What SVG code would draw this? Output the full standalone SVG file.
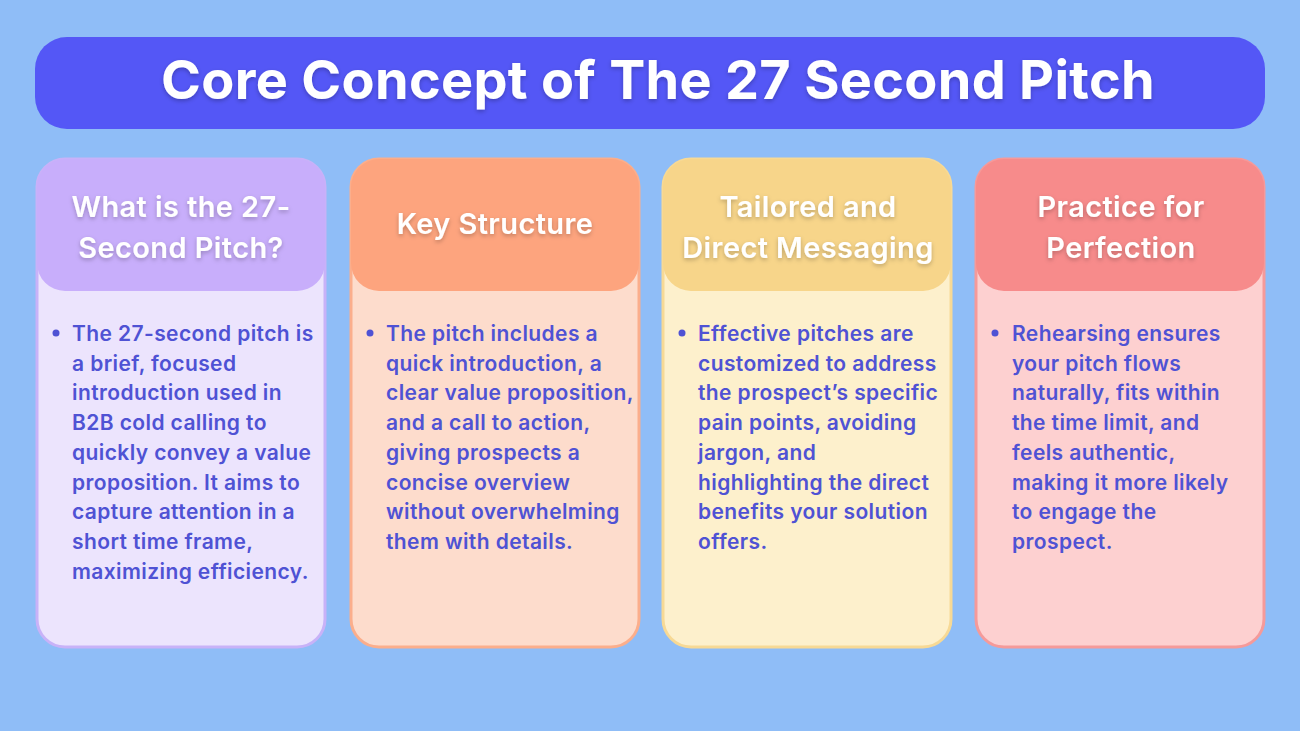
<svg xmlns="http://www.w3.org/2000/svg" width="1300" height="731" viewBox="0 0 1300 731">
<defs>
<filter id="sh" x="-10%" y="-20%" width="120%" height="140%"><feDropShadow dx="0" dy="2" stdDeviation="2" flood-color="#000" flood-opacity="0.25"/></filter>
</defs>
<style>
.title{font-family:Inter,"Noto Sans",sans-serif;font-weight:700;font-size:54px;letter-spacing:0.3px;fill:#fff;text-anchor:middle}
.head{font-family:Inter,"Noto Sans",sans-serif;font-weight:600;font-size:29px;letter-spacing:0.4px;fill:#fff;text-anchor:middle}
.body{font-family:Inter,"Noto Sans",sans-serif;font-weight:600;font-size:21px;letter-spacing:0.4px;fill:#4f52d4}
</style>
<rect width="1300" height="731" fill="#8fbdf7"/>
<g id="title">
<rect x="35" y="37" width="1230" height="92" rx="32" fill="#5457f6"/>
<text class="title" x="658" y="99" filter="url(#sh)">Core Concept of The 27 Second Pitch</text>
</g>
<g id="card1">
<rect x="37" y="159" width="288" height="488" rx="28" fill="#ece4fd" stroke="#c8b2f8" stroke-width="3"/>
<rect x="37" y="159" width="288" height="132" rx="28" fill="#c8aefb"/>
<text class="head" x="181" y="217" filter="url(#sh)">What is the 27-</text>
<text class="head" x="181" y="258" filter="url(#sh)">Second Pitch?</text>
<circle cx="56" cy="333" r="3.5" fill="#4f52d4"/>
<text class="body" x="72" y="341"><tspan x="72" dy="0">The 27-second pitch is</tspan><tspan x="72" dy="29.7">a brief, focused</tspan><tspan x="72" dy="29.7">introduction used in</tspan><tspan x="72" dy="29.7">B2B cold calling to</tspan><tspan x="72" dy="29.7">quickly convey a value</tspan><tspan x="72" dy="29.7">proposition. It aims to</tspan><tspan x="72" dy="29.7">capture attention in a</tspan><tspan x="72" dy="29.7">short time frame,</tspan><tspan x="72" dy="29.7">maximizing efficiency.</tspan></text>
</g>
<g id="card2">
<rect x="351" y="159" width="288" height="488" rx="28" fill="#fddccc" stroke="#fbae8c" stroke-width="3"/>
<rect x="351" y="159" width="288" height="132" rx="28" fill="#fda47e"/>
<text class="head" x="495" y="234" filter="url(#sh)">Key Structure</text>
<circle cx="370" cy="333" r="3.5" fill="#4f52d4"/>
<text class="body" x="386" y="341"><tspan x="386" dy="0">The pitch includes a</tspan><tspan x="386" dy="29.7">quick introduction, a</tspan><tspan x="386" dy="29.7">clear value proposition,</tspan><tspan x="386" dy="29.7">and a call to action,</tspan><tspan x="386" dy="29.7">giving prospects a</tspan><tspan x="386" dy="29.7">concise overview</tspan><tspan x="386" dy="29.7">without overwhelming</tspan><tspan x="386" dy="29.7">them with details.</tspan></text>
</g>
<g id="card3">
<rect x="663" y="159" width="288" height="488" rx="28" fill="#fdf0cc" stroke="#f7d995" stroke-width="3"/>
<rect x="663" y="159" width="288" height="132" rx="28" fill="#f7d58a"/>
<text class="head" x="808" y="217" filter="url(#sh)">Tailored and</text>
<text class="head" x="808" y="258" filter="url(#sh)">Direct Messaging</text>
<circle cx="682" cy="333" r="3.5" fill="#4f52d4"/>
<text class="body" x="698" y="341"><tspan x="698" dy="0">Effective pitches are</tspan><tspan x="698" dy="29.7">customized to address</tspan><tspan x="698" dy="29.7">the prospect’s specific</tspan><tspan x="698" dy="29.7">pain points, avoiding</tspan><tspan x="698" dy="29.7">jargon, and</tspan><tspan x="698" dy="29.7">highlighting the direct</tspan><tspan x="698" dy="29.7">benefits your solution</tspan><tspan x="698" dy="29.7">offers.</tspan></text>
</g>
<g id="card4">
<rect x="976" y="159" width="288" height="488" rx="28" fill="#fdd0d0" stroke="#f59a9a" stroke-width="3"/>
<rect x="976" y="159" width="288" height="132" rx="28" fill="#f78b8b"/>
<text class="head" x="1121" y="217" filter="url(#sh)">Practice for</text>
<text class="head" x="1121" y="258" filter="url(#sh)">Perfection</text>
<circle cx="995" cy="333" r="3.5" fill="#4f52d4"/>
<text class="body" x="1012" y="341"><tspan x="1012" dy="0">Rehearsing ensures</tspan><tspan x="1012" dy="29.7">your pitch flows</tspan><tspan x="1012" dy="29.7">naturally, fits within</tspan><tspan x="1012" dy="29.7">the time limit, and</tspan><tspan x="1012" dy="29.7">feels authentic,</tspan><tspan x="1012" dy="29.7">making it more likely</tspan><tspan x="1012" dy="29.7">to engage the</tspan><tspan x="1012" dy="29.7">prospect.</tspan></text>
</g>
<g id="connectors"/>
</svg>
